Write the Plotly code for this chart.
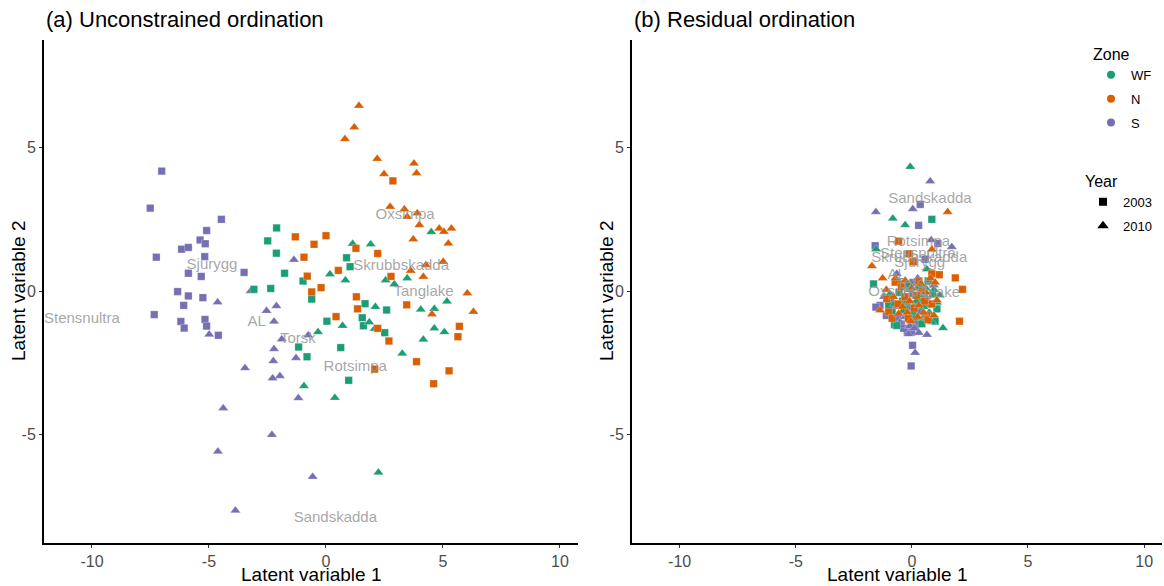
import plotly.graph_objects as go

# ---------------- data: panel (a) unconstrained ordination ----------------
a_S_2003_x = [-7.02, -7.51, -4.47, -5.10, -5.38, -5.16, -6.17, -5.88, -7.25, -5.18, -5.88, -5.33, -3.50,
              -6.34, -5.88, -5.26, -6.08, -7.34, -6.20, -6.06, -5.17, -5.10, -4.60]
a_S_2003_y = [4.18, 2.89, 2.50, 2.11, 1.78, 1.65, 1.46, 1.52, 1.18, 1.20, 0.62, 0.51, 0.65,
              -0.02, -0.17, -0.23, -0.50, -0.82, -1.06, -1.29, -0.99, -1.22, -1.54]
a_S_2010_x = [-4.63, -4.99, -3.22, -2.12, -2.54, -2.22, -1.89, -2.22, -2.25, -1.97, -2.28, -3.46, -1.28,
              -1.18, -4.39, -2.31, -4.62, -0.57, -3.87, -0.76, -1.37]
a_S_2010_y = [-0.39, -1.51, 0.00, -0.52, -0.69, -1.06, -1.68, -2.02, -2.44, -2.96, -3.04, -2.68, -2.33,
              -3.73, -4.08, -5.01, -5.59, -6.47, -7.65, -1.54, 1.09]
a_WF_2003_x = [-2.11, -2.49, -2.12, -1.77, -0.98, -2.36, -3.08, -0.61, 0.88, 1.03, 0.04, -1.17, -0.81,
               0.63, 0.97, 1.55, 1.67, 1.60, 2.59, 2.51]
a_WF_2003_y = [2.20, 1.75, 1.32, 0.62, 0.35, 0.09, 0.06, -0.28, 1.16, 0.85, -1.05, -1.95, -2.29,
               -1.97, -3.11, -0.93, -0.44, -1.21, -0.66, -1.45]
a_WF_2010_x = [0.17, 0.83, 1.14, 1.91, 2.55, 2.92, 3.47, 4.50, 5.17, 4.63, 4.05, 2.11, 1.85, 0.71,
               -0.34, 2.08, 4.63, 5.06, 4.16, 3.26, 0.38, -0.94, 2.24]
a_WF_2010_y = [0.59, 0.38, 1.65, 1.63, 0.38, 0.24, 0.45, 2.06, -0.36, -0.62, -0.64, -0.55, -1.09, -1.21,
               -1.43, -1.31, -1.30, -1.43, -1.69, -2.18, -3.72, -3.31, -6.32]
a_N_2003_x = [-1.31, -0.51, 0.00, -0.94, -0.80, 0.53, -0.21, -0.61, 1.28, 2.21, 1.30, 2.86, 2.78, 1.35,
              3.45, 0.43, 5.70, 5.64, 2.21, 2.69, 3.87, 2.08, 5.26, 4.60]
a_N_2003_y = [1.89, 1.63, 1.93, 1.18, 0.52, 0.72, 0.12, -0.03, 1.49, 1.31, -0.20, 3.84, 0.51, -0.62,
              -0.48, -0.89, -1.23, -1.59, -1.30, -1.74, -2.46, -2.72, -2.78, -3.23]
a_N_2010_x = [1.41, 1.21, 0.81, 2.19, 3.76, 3.87, 2.48, 2.74, 3.35, 3.90, 3.47, 3.99, 4.84, 5.04,
              5.36, 3.73, 5.23, 4.27, 5.01, 3.62, 4.16, 6.04, 6.30, 4.53]
a_N_2010_y = [6.46, 5.71, 5.30, 4.61, 4.45, 4.11, 4.08, 2.94, 2.85, 2.71, 2.59, 2.30, 2.18, 2.07,
              2.18, 1.81, 1.66, 0.91, 1.02, 0.71, 0.50, -0.08, -0.72, -0.81]

a_site_names = ["Oxsimpa", "Skrubbskadda", "Tanglake", "Sjurygg", "Stensnultra", "AL", "Torsk",
                "Rotsimpa", "Sandskadda"]
a_site_x = [3.38, 3.21, 4.17, -4.87, -10.43, -2.96, -1.20, 1.25, 0.40]
a_site_y = [2.65, 0.85, -0.05, 0.91, -0.98, -1.10, -1.68, -2.64, -7.92]

# ---------------- data: panel (b) residual ordination ----------------
b_S_2003_x = [0.36, 0.29, 1.12, -1.58, 0.57, 0.03, -0.03, -1.37, -1.55, -0.20, 0.00, -0.35, 0.15,
              -0.60, 0.35, -0.90, 0.50, -0.15, 0.20, -0.45, 0.75, -1.10, 0.05]
b_S_2003_y = [3.02, 2.29, 1.66, 1.58, 1.11, -1.89, -2.61, -0.50, -0.56, -1.39, -1.43, -1.30, -1.25,
              -0.95, -0.70, -0.30, 0.05, -0.55, -1.05, -1.15, -0.45, -0.85, 0.30]
b_S_2010_x = [0.79, 0.04, -1.55, 0.83, 1.72, 0.65, 0.14, -0.52, -0.09, 0.10, -0.30, 0.45, -0.80,
              0.60, -0.05, 0.25, -0.65, 0.95, -1.20, 0.30, -0.15]
b_S_2010_y = [3.83, 2.86, 2.76, 1.78, 1.54, -1.52, -2.15, -1.08, -1.22, -1.30, -0.90, -0.95, -0.55,
              -0.20, -0.15, 0.45, 0.60, 0.20, -0.20, -1.45, -1.50]
b_WF_2003_x = [0.86, -1.65, -0.75, 0.43, 1.08, -0.40, 0.15, 0.60, -0.85, 0.30, -0.20, 0.90, -0.55,
               0.05, -1.00, 0.70, -0.30, 0.45, 1.00, -0.65]
b_WF_2003_y = [2.50, 0.25, -1.17, -1.14, -0.62, -0.35, -0.45, -0.90, -0.75, 0.15, 0.20, -0.10, -0.05,
               -0.80, -0.50, 0.35, -0.65, -0.30, -1.05, -1.20]
b_WF_2010_x = [-0.07, -0.82, -0.29, -1.54, 1.34, 0.65, 0.72, 0.86, 1.08, -0.75, -0.40, 0.20, 0.50,
               -0.10, 0.35, -0.95, 0.95, 0.10, -0.25, 0.75, 0.60, -0.55, 1.20]
b_WF_2010_y = [4.33, 2.53, 2.30, 1.46, -1.29, 0.76, 0.37, -1.08, -0.40, -0.45, -0.70, -0.35, -0.55,
               0.05, -0.15, -0.10, 0.05, -0.95, -0.40, -0.75, 0.10, 0.30, -0.15]
b_N_2003_x = [-0.57, -0.12, 0.07, 1.18, 1.87, 2.18, 2.05, -0.72, 0.86, -1.08, -1.00, 0.65, 0.45,
              -0.30, 0.10, -0.60, 0.30, 0.85, -0.15, 0.55, -0.45, 0.20, -0.85, 0.70]
b_N_2003_y = [1.74, 1.30, 1.02, 0.57, 0.46, 0.06, -1.05, 0.31, 0.60, -0.27, -0.73, -0.85, 0.00,
              -0.20, -0.60, -0.45, 0.35, -0.45, -0.95, -0.35, 0.15, -0.15, -0.95, -1.00]
b_N_2010_x = [1.54, -1.72, -1.26, 0.86, -0.29, -1.37, -0.57, 1.08, 0.30, -0.10, 0.50, -0.80, 0.80,
              0.00, -0.40, 0.60, -1.10, 0.25, -0.20, 0.95, -0.70, 0.40, -0.05, 1.00]
b_N_2010_y = [2.76, 0.87, 0.45, 1.45, 0.37, -0.67, -0.79, -0.32, -0.50, -0.35, -0.75, -0.20, 0.45,
              0.10, -0.55, -0.05, 0.05, -0.90, -0.75, -0.85, 0.45, 0.25, -1.05, 0.30]

b_site_names = ["Sandskadda", "Rotsimpa", "Stensnultra", "Skrubbskadda", "Sjurygg", "AL", "Torsk",
                "Oxsimpa", "Tanglake"]
b_site_x = [0.78, 0.28, 0.26, 0.32, 0.34, -0.65, 0.09, -0.60, 0.78]
b_site_y = [3.19, 1.70, 1.29, 1.14, 0.96, 0.56, 0.24, -0.03, -0.07]

zones = ["WF", "N", "S"]
zone_colors = {"WF": "#1B9E77", "N": "#D95F02", "S": "#7570B3"}
years = ["2003", "2010"]
year_symbols = {"2003": "square", "2010": "triangle-up"}
year_sizes = {"2003": 7.5, "2010": 9}

x_ticks = [-10, -5, 0, 5, 10]
x_tick_text = ["-10", "-5", "0", "5", "10"]
y_ticks = [-5, 0, 5]
y_tick_text = ["-5", "0", "5"]

FONT = "Liberation Sans, Arial, sans-serif"

panel_a = {
    ("WF", "2003"): (a_WF_2003_x, a_WF_2003_y), ("WF", "2010"): (a_WF_2010_x, a_WF_2010_y),
    ("N", "2003"): (a_N_2003_x, a_N_2003_y), ("N", "2010"): (a_N_2010_x, a_N_2010_y),
    ("S", "2003"): (a_S_2003_x, a_S_2003_y), ("S", "2010"): (a_S_2010_x, a_S_2010_y),
}
panel_b = {
    ("WF", "2003"): (b_WF_2003_x, b_WF_2003_y), ("WF", "2010"): (b_WF_2010_x, b_WF_2010_y),
    ("N", "2003"): (b_N_2003_x, b_N_2003_y), ("N", "2010"): (b_N_2010_x, b_N_2010_y),
    ("S", "2003"): (b_S_2003_x, b_S_2003_y), ("S", "2010"): (b_S_2010_x, b_S_2010_y),
}

fig = go.Figure()

draw_order = [("S", "2003"), ("S", "2010"), ("WF", "2003"), ("WF", "2010"), ("N", "2003"), ("N", "2010")]
for panel, xa, ya in [(panel_a, "x", "y"), (panel_b, "x2", "y2")]:
    for z, yr in draw_order:
        xs, ys = panel[(z, yr)]
        fig.add_trace(go.Scatter(
            x=xs, y=ys, mode="markers", xaxis=xa, yaxis=ya, showlegend=False,
            marker=dict(color=zone_colors[z], symbol=year_symbols[yr], size=year_sizes[yr],
                        line=dict(width=0.5, color="rgba(255,255,255,0.5)")),
            hoverinfo="x+y"))

for names, sx, sy, xa, ya in [(a_site_names, a_site_x, a_site_y, "x", "y"),
                              (b_site_names, b_site_x, b_site_y, "x2", "y2")]:
    fig.add_trace(go.Scatter(
        x=sx, y=sy, text=names, mode="text", xaxis=xa, yaxis=ya, showlegend=False,
        textfont=dict(family=FONT, size=15, color="rgba(150,150,150,0.85)"),
        textposition="middle center", hoverinfo="text"))

# legend entries
for z in zones:
    fig.add_trace(go.Scatter(
        x=[None], y=[None], mode="markers", name=z, legend="legend", legendgroup="z" + z,
        marker=dict(color=zone_colors[z], symbol="circle", size=8)))
for yr in years:
    fig.add_trace(go.Scatter(
        x=[None], y=[None], mode="markers", name=yr, legend="legend2", legendgroup="y" + yr,
        marker=dict(color="black", symbol=year_symbols[yr], size=8 if yr == "2003" else 10)))

W, H = 1164, 586
xr = [-12.05, 10.77]
yr_ = [-8.78, 8.75]
axis_common = dict(
    showgrid=False, zeroline=False, showline=True, linecolor="black", linewidth=2,
    ticks="outside", ticklen=3, tickcolor="#333333", tickwidth=1,
    tickfont=dict(family=FONT, size=16, color="#4d4d4d"),
)
ydom = [(H - 543) / H, (H - 40) / H]
fig.update_layout(
    width=W, height=H, plot_bgcolor="white", paper_bgcolor="white",
    margin=dict(l=0, r=0, t=0, b=0),
    font=dict(family=FONT),
    xaxis=dict(domain=[44 / W, 578 / W], range=xr, tickvals=x_ticks, ticktext=x_tick_text,
               anchor="y", **axis_common),
    yaxis=dict(domain=ydom, range=yr_, tickvals=y_ticks, ticktext=y_tick_text, anchor="x", **axis_common),
    xaxis2=dict(domain=[632 / W, 1162 / W], range=xr, tickvals=x_ticks, ticktext=x_tick_text,
                anchor="y2", **axis_common),
    yaxis2=dict(domain=ydom, range=yr_, tickvals=y_ticks, ticktext=y_tick_text, anchor="x2",
                **axis_common),
    legend=dict(x=1091 / W, y=1 - 39 / H, xanchor="left", yanchor="top",
                title=dict(text="Zone", font=dict(size=16, color="black")),
                font=dict(size=13, color="black"), tracegroupgap=4, bgcolor="rgba(0,0,0,0)",
                itemsizing="trace"),
    legend2=dict(x=1083 / W, y=1 - 166 / H, xanchor="left", yanchor="top",
                 title=dict(text="Year", font=dict(size=16, color="black")),
                 font=dict(size=13, color="black"), tracegroupgap=4, bgcolor="rgba(0,0,0,0)",
                 itemsizing="trace"),
)

annotations = [
    dict(text="(a) Unconstrained ordination", x=44 / W, y=1 - 20 / H, xref="paper", yref="paper",
         xanchor="left", yanchor="middle", showarrow=False, font=dict(size=22, color="black")),
    dict(text="(b) Residual ordination", x=632 / W, y=1 - 20 / H, xref="paper", yref="paper",
         xanchor="left", yanchor="middle", showarrow=False, font=dict(size=22, color="black")),
    dict(text="Latent variable 1", x=311 / W, y=1 - 574 / H, xref="paper", yref="paper",
         xanchor="center", yanchor="middle", showarrow=False, font=dict(size=19, color="black")),
    dict(text="Latent variable 1", x=897 / W, y=1 - 574 / H, xref="paper", yref="paper",
         xanchor="center", yanchor="middle", showarrow=False, font=dict(size=19, color="black")),
    dict(text="Latent variable 2", x=19 / W, y=1 - 291 / H, xref="paper", yref="paper",
         xanchor="center", yanchor="middle", showarrow=False, textangle=-90,
         font=dict(size=19, color="black")),
    dict(text="Latent variable 2", x=607 / W, y=1 - 291 / H, xref="paper", yref="paper",
         xanchor="center", yanchor="middle", showarrow=False, textangle=-90,
         font=dict(size=19, color="black")),
]
fig.update_layout(annotations=annotations)

fig.write_html("out.html", config={"displayModeBar": False},
               post_script="document.body.style.margin='0';document.body.style.overflow='hidden';")
